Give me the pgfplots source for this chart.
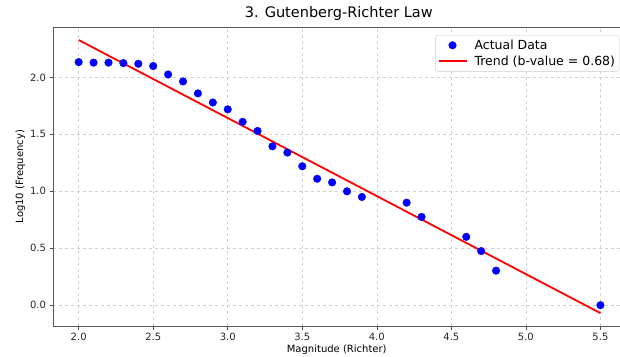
\documentclass[border=0pt]{standalone}
\usepackage{fontspec}
\setmainfont{DejaVu Sans}
\usepackage{pgfplots}
\pgfplotsset{compat=1.18}
\pgfplotsset{
  dotlegend/.style={legend image code/.code={\path[draw=none,fill=none] (0pt,0pt) (34pt,0pt);\fill[blue] (14pt,0pt) circle (3.8pt);}},
  linelegend/.style={legend image code/.code={\path[draw=none,fill=none] (0pt,0pt) (34pt,0pt);\draw[red, line width=1.8pt] (0pt,0pt) -- (28pt,0pt);}},
}
\begin{document}
\begin{tikzpicture}
\path[use as bounding box] (-53pt,-30pt) rectangle (566.6pt,326pt);
\begin{axis}[
  at={(0,0)}, anchor=south west,
  scale only axis, width=567pt, height=299pt,
  xmin=1.828, xmax=5.634, ymin=-0.185, ymax=2.443,
  xtick={2.0,2.5,3.0,3.5,4.0,4.5,5.0,5.5},
  ytick={0,0.5,1.0,1.5,2.0},
  /pgf/number format/assume math mode=true,
  xticklabel style={/pgf/number format/.cd, fixed, fixed zerofill, precision=1},
  yticklabel style={/pgf/number format/.cd, fixed, fixed zerofill, precision=1},
  ticklabel style={font=\fontsize{10}{12}\selectfont, text=black!85},
  tick pos=left, tick align=outside, major tick length=3.5pt,
  tick style={black!70, line width=0.6pt},
  axis line style={black!65, line width=0.8pt},
  grid=major, major grid style={dashed, black!18, line width=0.5pt},
  title={3. Gutenberg-Richter Law},
  title style={font=\fontsize{14.5}{17}\selectfont, yshift=-3pt, xshift=2pt},
  xlabel={Magnitude (Richter)},
  ylabel={Log10 (Frequency)},
  label style={font=\fontsize{10}{12}\selectfont},
  xlabel style={yshift=3pt},
  ylabel style={yshift=-2pt},
  legend style={at={(0.998,0.973)}, anchor=north east, rounded corners=2pt,
    draw=black!20, font=\fontsize{12.5}{14}\selectfont, row sep=1pt,
    inner xsep=2pt, inner ysep=2.5pt},
  legend cell align=left,
]
\addplot[only marks, mark=*, mark size=3.8pt, mark options={draw=blue, fill=blue}, color=blue, dotlegend]
coordinates {
(2.0,2.135) (2.1,2.13) (2.2,2.13) (2.3,2.126) (2.4,2.12) (2.5,2.10)
(2.6,2.026) (2.7,1.965) (2.8,1.86) (2.9,1.78) (3.0,1.72) (3.1,1.61)
(3.2,1.53) (3.3,1.395) (3.4,1.34) (3.5,1.22) (3.6,1.11) (3.7,1.078)
(3.8,1.0) (3.9,0.95) (4.2,0.90) (4.3,0.775) (4.6,0.60) (4.7,0.475)
(4.8,0.303) (5.5,0.0)
};
\addlegendentry{Actual Data}
\addplot[red, line width=1.8pt, linelegend]
  coordinates {(2.0,2.329) (5.5,-0.07)};
\addlegendentry{Trend (b-value = 0.68)}
\end{axis}
\end{tikzpicture}
\end{document}
